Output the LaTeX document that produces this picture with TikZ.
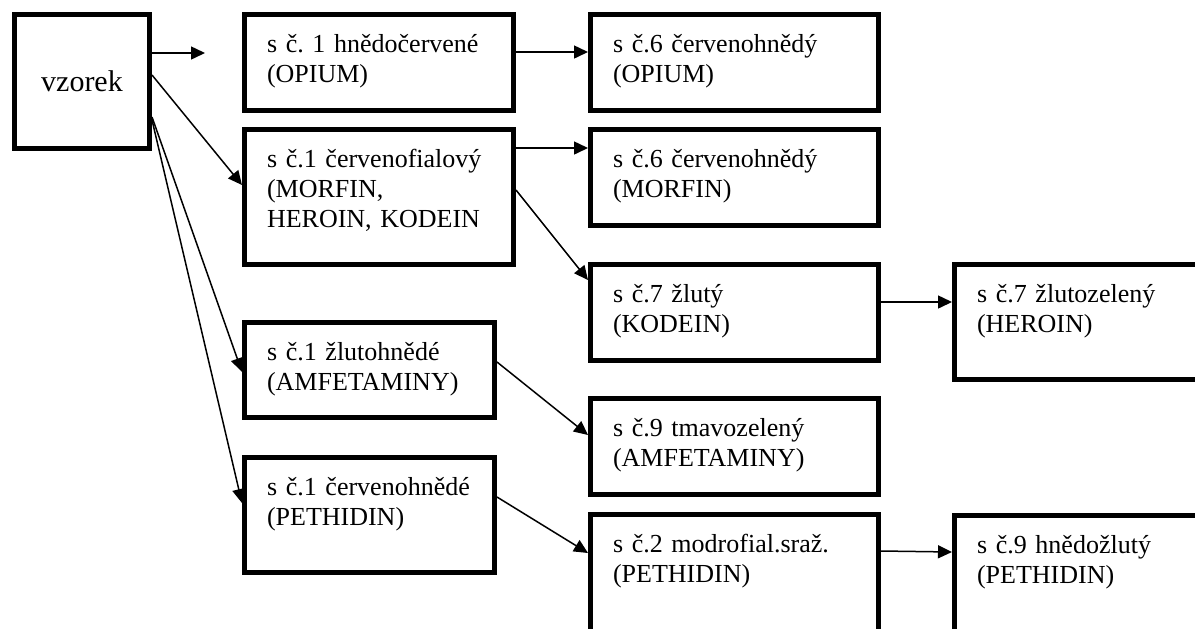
\documentclass[tikz,border=0pt]{standalone}
\usepackage{fontspec}
\setmainfont{Liberation Serif}
\usetikzlibrary{arrows.meta}
\frenchspacing

\begin{document}
\begin{tikzpicture}[x=0.5pt,y=-0.5pt,
    krok/.style={draw, line width=2.5pt, anchor=north west, align=left,
        inner xsep=11.25pt, inner ysep=0pt, text height=18.75pt,
        font=\fontsize{13}{15}\selectfont},
    sipka/.style={line width=0.75pt, -{Triangle[length=7pt,width=6.5pt]}}]
    \useasboundingbox (0,0) rectangle (1195,628);
    \clip (0,0) rectangle (1195,628);

    % sample
    \node[draw, line width=2.5pt, anchor=north west, minimum width=67.5pt,
        minimum height=67pt, inner sep=0pt, font=\fontsize{15}{18}\selectfont]
        (vz) at (12,12) {vzorek};
    \coordinate (e1) at (205,53);

    % first reaction
    \node[krok, text width=112pt, text depth=29.25pt] (op1) at (242,12) {s č. 1 hnědočervené\\(OPIUM)};
    \node[krok, text width=112pt, text depth=48.75pt] (mo1) at (242,127) {s č.1 červenofialový\\(MORFIN,\\HEROIN, KODEIN};
    \node[krok, text width=102.5pt, text depth=28.75pt] (am1) at (242,320) {s č.1 žlutohnědé\\(AMFETAMINY)};
    \node[krok, text width=102.5pt, text depth=38.75pt] (pe1) at (242,455) {s č.1 červenohnědé\\(PETHIDIN)};

    % second reaction
    \node[krok, text width=121.5pt, text depth=29.25pt] (op2) at (588,12) {s č.6 červenohnědý\\(OPIUM)};
    \node[krok, text width=121.5pt, text depth=29.25pt] (mo2) at (588,127) {s č.6 červenohnědý\\(MORFIN)};
    \node[krok, text width=121.5pt, text depth=29.25pt] (ko) at (588,262) {s č.7 žlutý\\(KODEIN)};
    \node[krok, text width=121.5pt, text depth=29.25pt] (am2) at (588,396) {s č.9 tmavozelený\\(AMFETAMINY)};
    \node[krok, text width=121.5pt, text depth=45pt] (pe2) at (588,512) {s č.2 modrofial.sraž.\\(PETHIDIN)};

    % third reaction
    \node[krok, text width=121.5pt, text depth=38.75pt] (he) at (952,262) {s č.7 žlutozelený\\(HEROIN)};
    \node[krok, text width=121.5pt, text depth=45pt] (pe3) at (952,513) {s č.9 hnědožlutý\\(PETHIDIN)};

    % arrows
    \draw[sipka] ([yshift=-20.5pt]vz.north east) -- (e1);
    \draw[sipka] ([yshift=-31.5pt]vz.north east) -- ([yshift=-29pt]mo1.north west);
    \draw[sipka] ([yshift=-52.5pt]vz.north east) -- ([yshift=-26pt]am1.north west);
    \draw[sipka] ([yshift=-54pt]vz.north east) -- ([yshift=-24pt]pe1.north west);
    \draw[sipka] ([yshift=-20pt]op1.north east) -- ([yshift=-20pt]op2.north west);
    \draw[sipka] ([yshift=-10.5pt]mo1.north east) -- ([yshift=-10.5pt]mo2.north west);
    \draw[sipka] ([yshift=-31.5pt]mo1.north east) -- ([yshift=-9pt]ko.north west);
    \draw[sipka] ([yshift=-20pt]ko.north east) -- ([yshift=-20pt]he.north west);
    \draw[sipka] ([yshift=-21pt]am1.north east) -- ([yshift=-19.5pt]am2.north west);
    \draw[sipka] ([yshift=-21pt]pe1.north east) -- ([yshift=-20.5pt]pe2.north west);
    \draw[sipka] ([yshift=-19.5pt]pe2.north east) -- ([yshift=-19.5pt]pe3.north west);
\end{tikzpicture}
\end{document}
